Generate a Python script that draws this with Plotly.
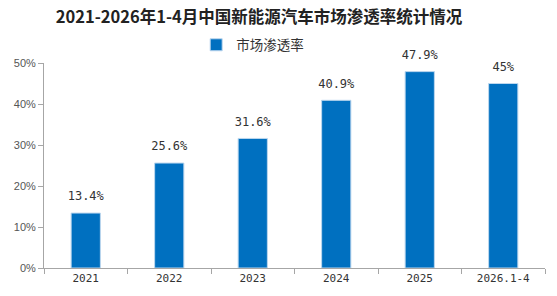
import plotly.graph_objects as go

categories = ["2021", "2022", "2023", "2024", "2025", "2026.1-4"]
penetration = [13.4, 25.6, 31.6, 40.9, 47.9, 45]
label_text = ["13.4%", "25.6%", "31.6%", "40.9%", "47.9%", "45%"]
tick_vals = [0, 10, 20, 30, 40, 50]
tick_text = ["0%", "10%", "20%", "30%", "40%", "50%"]

fig = go.Figure()
fig.add_trace(go.Bar(
    x=categories, y=penetration, name="市场渗透率",
    marker=dict(color="#0070C0", line=dict(color="#BDD7EE", width=1)),
    width=0.35,
))
fig.add_trace(go.Scatter(
    x=categories, y=penetration, mode="markers+text", text=label_text,
    textposition="top center", showlegend=False, hoverinfo="skip",
    marker=dict(size=14, opacity=0), cliponaxis=False,
    textfont=dict(family="DejaVu Sans Mono, monospace", size=12, color="#333"),
))
fig.update_layout(
    width=557, height=296,
    margin=dict(l=44, r=12, t=63, b=28),
    paper_bgcolor="white", plot_bgcolor="white",
    title=dict(text="<b>2021-2026年1-4月中国新能源汽车市场渗透率统计情况</b>",
               x=259/557, xanchor="center", y=1-17/296, yanchor="middle",
               font=dict(family="Noto Sans CJK SC", size=16.5, color="#222")),
    showlegend=True,
    legend=dict(orientation="h", x=232/557, xanchor="center", xref="paper",
                y=1+18/205, yanchor="middle",
                font=dict(family="Noto Sans CJK SC", size=13.5, color="#333"),
                itemwidth=30),
    xaxis=dict(type="category", showline=True, linecolor="#A6A6A6", linewidth=1,
               ticks="outside", tickson="boundaries", ticklen=5, tickcolor="#A6A6A6",
               tickfont=dict(family="DejaVu Sans Mono, monospace", size=11, color="#333")),
    yaxis=dict(range=[0, 50], tickvals=tick_vals, ticktext=tick_text,
               showline=True, linecolor="#A6A6A6", linewidth=1, ticks="outside",
               ticklen=5, tickcolor="#A6A6A6", showgrid=False, zeroline=False,
               tickfont=dict(family="Liberation Sans, Arial", size=11, color="#555")),
    bargap=0.65,
)
fig.write_html("out.html")
